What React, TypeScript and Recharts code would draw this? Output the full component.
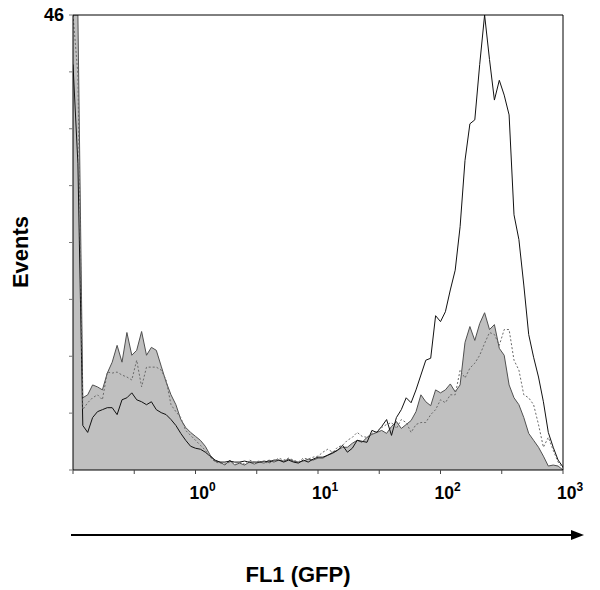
import React from 'react';
import { ComposedChart, Area, Line, XAxis, YAxis, ReferenceLine } from 'recharts';

// Events per FL1 channel, channels spaced 0.04 decade apart from 10^-1 to 10^3
const filledCounts = [
  46, 46, 7.3, 7.6, 8.6, 8.4, 8.1, 9.8, 10.9, 12.6,
  10.9, 13.9, 11.6, 12.1, 14.0, 11.6, 12.4, 12.1, 10.5, 8.9,
  7.6, 6.6, 5.1, 4.3, 3.8, 3.4, 3.0, 2.4, 1.5, 0.9,
  0.8, 0.5, 1.0, 0.5, 0.7, 0.5, 0.8, 0.6, 0.8, 0.7,
  1.0, 0.8, 1.0, 0.9, 1.1, 0.9, 0.8, 0.9, 1.1, 1.0,
  1.2, 1.2, 1.5, 1.8, 2.0, 2.3, 2.3, 2.7, 3.0, 2.8,
  3.3, 3.6, 3.8, 4.0, 3.7, 4.4, 4.9, 4.2, 4.6, 5.0,
  5.9, 7.6, 6.9, 6.5, 8.1, 7.8, 8.1, 8.7, 7.9, 8.6,
  12.9, 14.5, 13.1, 14.8, 15.9, 14.2, 14.7, 12.3, 11.6, 8.6,
  7.3, 6.6, 5.3, 3.7, 3.0, 2.3, 1.4, 0.4, 0.5, 0.4,
  0,
];

const solidCounts = [
  41, 31, 4.5, 3.8, 5.3, 5.9, 6.1, 6.3, 6.3, 5.6,
  7.1, 7.3, 7.8, 7.1, 6.9, 6.6, 6.9, 6.1, 5.8, 5.6,
  5.1, 4.5, 3.7, 3.0, 2.4, 2.2, 2.1, 1.8, 1.4, 1.0,
  0.8, 0.8, 0.9, 0.8, 0.8, 0.9, 0.8, 0.8, 0.8, 0.9,
  0.8, 1.0, 1.0, 0.8, 1.0, 0.8, 0.7, 1.0, 0.8, 1.1,
  1.3, 1.3, 1.5, 1.7, 2.0, 2.5, 1.8, 2.2, 3.0, 2.9,
  2.8, 4.0, 3.8, 4.4, 5.1, 3.5, 5.3, 6.1, 7.3, 6.8,
  8.1, 9.6, 11.1, 11.3, 15.6, 15.0, 16.0, 18.2, 20.2, 24.6,
  31.3, 35.0, 35.4, 41.0, 46, 41.5, 37.4, 39.4, 37.9, 35.9,
  25.8, 23.3, 18.7, 13.7, 11.4, 9.4, 6.9, 3.8, 2.3, 1.0,
  0.3,
];

const dottedCounts = [
  46, 40, 6.1, 6.8, 7.3, 7.6, 7.1, 9.9, 9.8, 9.9,
  9.6, 9.4, 9.1, 11.1, 8.4, 10.4, 10.4, 10.4, 10.1, 9.1,
  6.6, 5.9, 5.3, 4.0, 3.5, 3.0, 2.5, 2.0, 1.3, 0.8,
  0.7, 0.6, 0.8, 0.7, 0.8, 0.6, 1.0, 0.8, 0.9, 0.8,
  0.7, 0.9, 1.2, 1.0, 1.2, 1.0, 0.8, 1.2, 1.1, 1.3,
  1.4, 1.8, 2.1, 1.8, 2.3, 2.5, 3.0, 3.3, 3.8, 3.4,
  3.3, 3.7, 3.9, 4.3, 4.6, 4.8, 4.2, 5.1, 4.8, 3.8,
  4.6, 4.8, 4.8, 5.6, 6.1, 7.1, 6.8, 7.6, 7.6, 10.1,
  9.3, 10.3, 10.8, 11.6, 12.8, 13.9, 13.7, 12.6, 14.2, 14.2,
  11.1, 10.1, 7.6, 7.3, 6.6, 4.6, 2.3, 3.3, 2.0, 0.8,
  0.2,
];

const xTicks = [0.1, 0.3162, 1, 3.162, 10, 31.62, 100, 316.2, 1000];
const decadeExponents: Record<string, string> = { '1': '0', '10': '1', '100': '2', '1000': '3' };
const yTicks = [0, 5.75, 11.5, 17.25, 23, 28.75, 34.5, 40.25, 46];
const yMaxLabel = '46';
const yTitle = 'Events';
const xTitle = 'FL1 (GFP)';

const FONT = '"Liberation Sans", Arial, Helvetica, sans-serif';

const data = filledCounts.map((v, i) => ({
  fl1: Math.pow(10, -1 + i * 0.04),
  filled: v,
  solid: solidCounts[i],
  dotted: dottedCounts[i],
}));

const XTick = (props: any) => {
  const { x, y, payload } = props;
  const exp = decadeExponents[String(payload.value)];
  if (exp === undefined) return <g />;
  return (
    <text x={x - 6} y={y + 23} textAnchor="start" fontFamily={FONT} fontWeight="bold" fontSize={17.5} fill="#000">
      <tspan>10</tspan>
      <tspan dy={-8} fontSize={12}>{exp}</tspan>
    </text>
  );
};

const YTick = (props: any) => {
  const { x, y, payload } = props;
  if (payload.value !== 46) return <g />;
  return (
    <text x={x - 3} y={y + 6} textAnchor="end" fontFamily={FONT} fontWeight="bold" fontSize={18} fill="#000">
      {yMaxLabel}
    </text>
  );
};

export default function App() {
  return (
    <div style={{ position: 'absolute', left: 0, top: 0, width: 600, height: 590, background: '#fff' }}>
      <ComposedChart
        width={600}
        height={590}
        data={data}
        margin={{ top: 15, right: 37, bottom: 90, left: 43 }}
      >
        <XAxis
          dataKey="fl1"
          type="number"
          scale="log"
          domain={[0.1, 1000]}
          ticks={xTicks}
          allowDataOverflow
          height={30}
          tickSize={4}
          axisLine={{ stroke: '#000', strokeWidth: 1 }}
          tickLine={{ stroke: '#444' }}
          tick={(p: any) => <XTick {...p} />}
          interval={0}
        />
        <YAxis
          type="number"
          domain={[0, 46]}
          ticks={yTicks}
          allowDataOverflow
          width={30}
          tickSize={4}
          axisLine={{ stroke: '#000', strokeWidth: 1 }}
          tickLine={{ stroke: '#777' }}
          tick={(p: any) => <YTick {...p} />}
          interval={0}
        />
        <Area
          type="linear"
          dataKey="filled"
          stroke="#505050"
          strokeWidth={1}
          fill="#c0c0c0"
          fillOpacity={1}
          isAnimationActive={false}
          dot={false}
          activeDot={false}
        />
        <Line
          type="linear"
          dataKey="solid"
          stroke="#111"
          strokeWidth={1}
          dot={false}
          activeDot={false}
          isAnimationActive={false}
        />
        <Line
          type="linear"
          dataKey="dotted"
          stroke="#6a6a6a"
          strokeWidth={1}
          strokeDasharray="2 2"
          dot={false}
          activeDot={false}
          isAnimationActive={false}
        />
        <ReferenceLine y={46} stroke="#000" strokeWidth={1} />
        <ReferenceLine x={1000} stroke="#000" strokeWidth={1} />
      </ComposedChart>
      <svg
        width={600}
        height={590}
        style={{ position: 'absolute', left: 0, top: 0, pointerEvents: 'none' }}
      >
        <line x1={71} y1={535} x2={574} y2={535} stroke="#000" strokeWidth={2} />
        <polygon points="584,535 571,530 571,540" fill="#000" />
        <text
          x={298}
          y={582}
          textAnchor="middle"
          fontFamily={FONT}
          fontWeight="bold"
          fontSize={22}
          fill="#000"
        >
          {xTitle}
        </text>
        <text
          x={28}
          y={252}
          textAnchor="middle"
          transform="rotate(-90 28 252)"
          fontFamily={FONT}
          fontWeight="bold"
          fontSize={22}
          fill="#000"
        >
          {yTitle}
        </text>
      </svg>
    </div>
  );
}
